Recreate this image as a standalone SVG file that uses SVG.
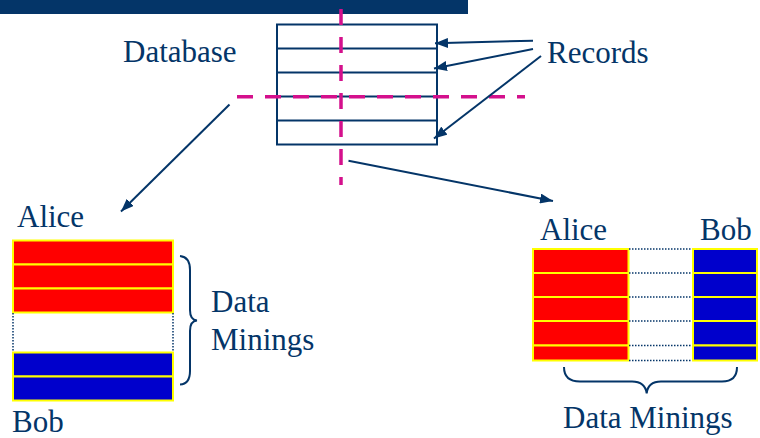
<svg xmlns="http://www.w3.org/2000/svg" width="760" height="438" viewBox="0 0 760 438">
<defs>
<style>
.t{font-family:'Liberation Serif',serif;font-size:31px;fill:#043568}
.nv{stroke:#043568;stroke-width:2;fill:none}
.ar{stroke:#043568;stroke-width:2;fill:none;marker-end:url(#ah)}
.pk{stroke:#d4108c;stroke-width:3.5;stroke-dasharray:16 12;fill:none}
.r{fill:#ff0000;stroke:#ffff00;stroke-width:2}
.b{fill:#0000cc;stroke:#ffff00;stroke-width:2}
.dt{stroke:#043568;stroke-width:1.5;stroke-dasharray:1.5 1.5;fill:none}
</style>
<marker id="ah" markerUnits="userSpaceOnUse" markerWidth="14" markerHeight="10" refX="13" refY="5" orient="auto">
<path d="M0,0 L13,5 L0,10 Z" fill="#043568"/>
</marker>
</defs>
<rect x="0" y="0" width="468" height="14" fill="#043568"/>

<g id="database">
<rect class="nv" x="277" y="24.5" width="160" height="120"/>
<line class="nv" x1="277" y1="48.5" x2="437" y2="48.5"/>
<line class="nv" x1="277" y1="72.5" x2="437" y2="72.5"/>
<line class="nv" x1="277" y1="96.5" x2="437" y2="96.5"/>
<line class="nv" x1="277" y1="120.5" x2="437" y2="120.5"/>
<text class="t" x="123" y="62">Database</text>
</g>

<g id="records">
<text class="t" x="547" y="63">Records</text>
</g>

<g id="cuts">
<line class="pk" x1="341" y1="9" x2="341" y2="185"/>
<line class="pk" x1="237" y1="96.7" x2="525" y2="96.7"/>
</g>

<g id="left-partition">
<text class="t" x="17" y="227">Alice</text>
<rect class="r" x="13" y="240.5" width="160" height="24"/>
<rect class="r" x="13" y="264.5" width="160" height="24"/>
<rect class="r" x="13" y="288.5" width="160" height="24"/>
<line class="dt" x1="13" y1="313" x2="13" y2="352"/>
<line class="dt" x1="173" y1="313" x2="173" y2="352"/>
<rect class="b" x="13" y="352.5" width="160" height="24"/>
<rect class="b" x="13" y="376.5" width="160" height="24"/>
<path class="nv" d="M180,256 Q190,257 190,270 L190,310 Q190,320 197,320.5 Q190,321 190,331 L190,371 Q190,384 180,384.5"/>
<text class="t" x="211" y="312">Data</text>
<text class="t" x="211" y="350">Minings</text>
<text class="t" x="12" y="432">Bob</text>
</g>

<g id="right-partition">
<text class="t" x="540" y="240">Alice</text>
<text class="t" x="700" y="240">Bob</text>
<rect class="r" x="533" y="249" width="95.5" height="24"/>
<rect class="r" x="533" y="273" width="95.5" height="24"/>
<rect class="r" x="533" y="297" width="95.5" height="24"/>
<rect class="r" x="533" y="321" width="95.5" height="24.5"/>
<rect class="r" x="533" y="345.5" width="95.5" height="15"/>
<rect class="b" x="693" y="249" width="64" height="24"/>
<rect class="b" x="693" y="273" width="64" height="24"/>
<rect class="b" x="693" y="297" width="64" height="24"/>
<rect class="b" x="693" y="321" width="64" height="24.5"/>
<rect class="b" x="693" y="345.5" width="64" height="15"/>
<line class="dt" x1="629" y1="249" x2="692" y2="249"/>
<line class="dt" x1="629" y1="273" x2="692" y2="273"/>
<line class="dt" x1="629" y1="297" x2="692" y2="297"/>
<line class="dt" x1="629" y1="321" x2="692" y2="321"/>
<line class="dt" x1="629" y1="345.5" x2="692" y2="345.5"/>
<line class="dt" x1="629" y1="360.5" x2="692" y2="360.5"/>
<path class="nv" d="M564,367 Q564,381.5 580,381.5 L632,381.5 Q645,381.5 646.7,393.3 Q648,381.5 661,381.5 L722,381.5 Q737,381.5 737,367"/>
<text class="t" x="563" y="428">Data Minings</text>
</g>

<g id="connectors">
<line class="ar" x1="533" y1="40.7" x2="435" y2="43.3"/>
<line class="ar" x1="533" y1="49" x2="434" y2="68.5"/>
<line class="ar" x1="541" y1="56" x2="434" y2="138.5"/>
<line class="ar" x1="229.5" y1="104.5" x2="121" y2="211.5"/>
<line class="ar" x1="348.5" y1="160.7" x2="553" y2="201"/>
</g>
</svg>
